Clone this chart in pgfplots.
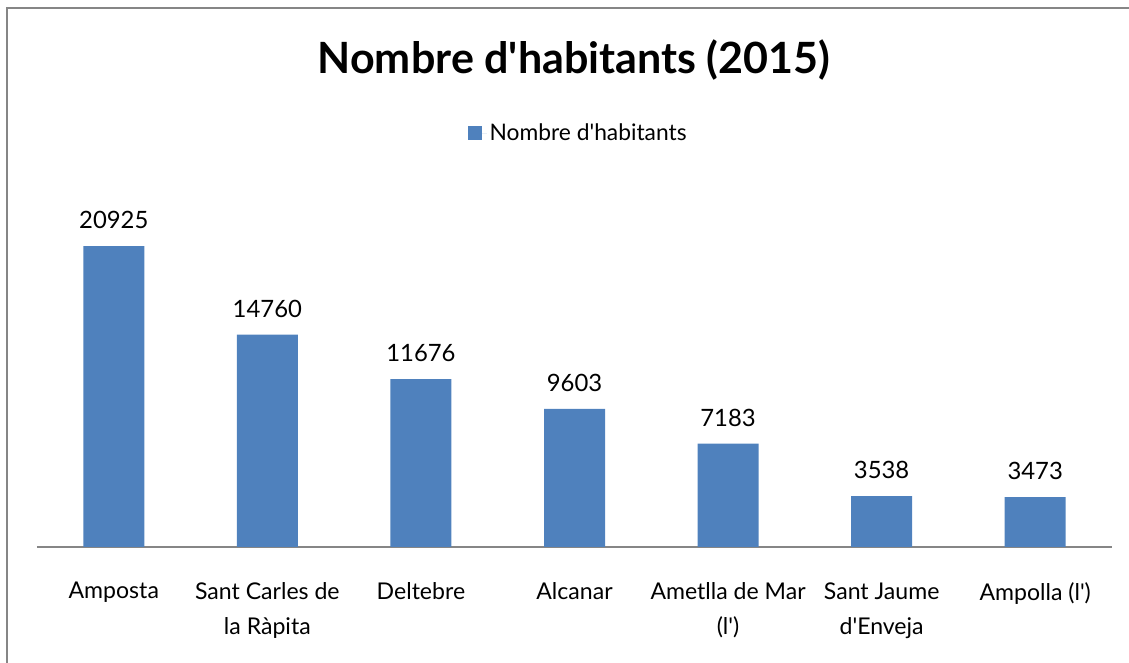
\documentclass[border=0pt]{standalone}
\usepackage{pgfplots}
\pgfplotsset{compat=1.18}
\usepackage{fontspec}
\setmainfont{Lato}
\definecolor{barblue}{HTML}{4F81BD}
\definecolor{axgray}{HTML}{868686}
\begin{document}
\begin{tikzpicture}[x=0.75pt,y=0.75pt]
\useasboundingbox (0,0) rectangle (1129,663);
\draw[axgray, line width=1.6pt] (7,-5) -- (7,655) -- (1135,655);
\begin{axis}[
  at={(27.75pt,87pt)}, anchor=south west,
  scale only axis, width=806.25pt, height=269.7pt,
  xmin=-0.5, xmax=6.5, ymin=0, ymax=25000,
  axis y line=none,
  axis x line*=bottom,
  x axis line style={axgray, line width=1.5pt, -},
  xtick=data,
  xticklabels={Amposta, Sant Carles de\\la Ràpita, Deltebre, Alcanar, Ametlla de Mar\\(l\textquotesingle), Sant Jaume\\d\textquotesingle Enveja, Ampolla (l\textquotesingle)},
  xticklabel style={align=center, font=\fontsize{17.3}{26.5}\selectfont, text=black, anchor=north, yshift=-23pt},
  major tick length=0pt,
  ybar, bar width=45.75pt,
  nodes near coords,
  nodes near coords style={font=\fontsize{17.9}{21}\selectfont, text=black, yshift=9.5pt},
  /pgf/number format/assume math mode=true,
  /pgf/number format/fixed, /pgf/number format/1000 sep={},
  legend style={at={(0.504,1.151)}, anchor=center, draw=none, font=\fontsize{17.1}{20}\selectfont, legend columns=1},
  legend image code/.code={\fill[barblue] (0pt,-5.25pt) rectangle (10.5pt,5.25pt); \path (0pt,0pt) -- (14pt,0pt);},
  title={Nombre d\textquotesingle habitants (2015)},
  title style={at={(0.4995,1.332)}, anchor=center, font=\bfseries\fontsize{32.3}{36}\selectfont},
  clip=false,
]
\addplot[fill=barblue, draw=none] coordinates {(0,20925) (1,14760) (2,11676) (3,9603) (4,7183) (5,3538) (6,3473)};
\addlegendentry{Nombre d\textquotesingle habitants}
\end{axis}
\end{tikzpicture}
\end{document}
